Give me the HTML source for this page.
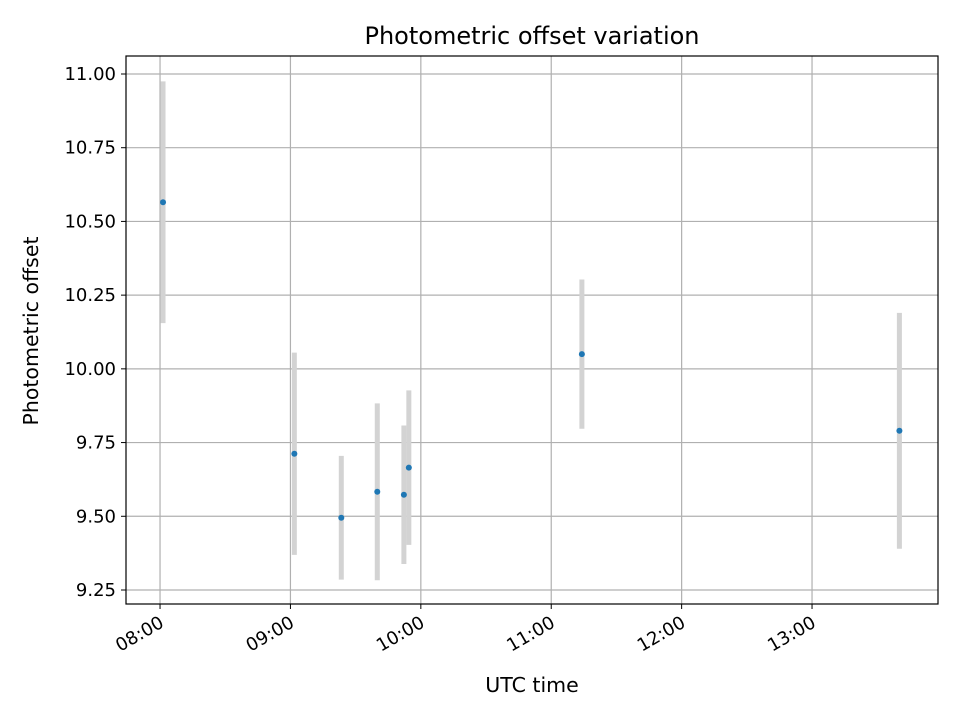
<!DOCTYPE html>
<html><head><meta charset="utf-8"><style>
body{margin:0;background:#fff;font-family:"Liberation Sans","DejaVu Sans",sans-serif;}
svg text{font-family:"DejaVu Sans","Liberation Sans",sans-serif;}
</style></head><body>
<svg id="chart" width="960" height="720" xmlns="http://www.w3.org/2000/svg">
<rect width="960" height="720" fill="#fff"/>
<g id="grid"></g><g id="bars"></g><g id="pts"></g>
<rect x="126" y="56" width="812" height="548" fill="none" stroke="#000" stroke-width="1.2"/>
<g id="axes"></g>
<text x="532" y="44" text-anchor="middle" font-size="24">Photometric offset variation</text>
<text x="532" y="692" text-anchor="middle" font-size="20.5">UTC time</text>
<text x="38" y="331" text-anchor="middle" font-size="20.5" transform="rotate(-90 38 331)">Photometric offset</text>
</svg>
<script>
const times = [8.023, 9.03, 9.39, 9.666, 9.87, 9.908, 11.235, 13.67];
const offsets = [10.565, 9.712, 9.495, 9.583, 9.573, 9.665, 10.05, 9.79];
const errors = [0.41, 0.343, 0.21, 0.30, 0.235, 0.262, 0.253, 0.40];
const xTicks = [8, 9, 10, 11, 12, 13];
const xTickLabels = ["08:00", "09:00", "10:00", "11:00", "12:00", "13:00"];
const yTicks = [9.25, 9.5, 9.75, 10.0, 10.25, 10.5, 10.75, 11.0];

const L=126,R=938,T=56,B=604;
const xMin=7.739,xMax=13.966,yMin=9.2025,yMax=11.061;
const sx=v=>L+(v-xMin)/(xMax-xMin)*(R-L);
const sy=v=>B-(v-yMin)/(yMax-yMin)*(B-T);
const NS="http://www.w3.org/2000/svg";
function mk(tag,attrs,parent,text){const e=document.createElementNS(NS,tag);for(const k in attrs)e.setAttribute(k,attrs[k]);if(text!==undefined)e.textContent=text;document.getElementById(parent).appendChild(e);return e;}
xTicks.forEach((t,i)=>{
  const x=sx(t);
  const g=mk('line',{x1:x,x2:x,y1:T,y2:B,stroke:'#b0b0b0','stroke-width':1.2},'grid');
  
  
  const tk=mk('line',{x1:x,x2:x,y1:B,y2:B+5,stroke:'#000','stroke-width':1},'axes');
  
  
  const lb=mk('text',{x:x+5,y:B+22,'text-anchor':'end','font-size':18,transform:`rotate(-30 ${x+5} ${B+22})`},'axes',xTickLabels[i]);
  
  
});
yTicks.forEach(t=>{
  const y=sy(t);
  const g=mk('line',{x1:L,x2:R,y1:y,y2:y,stroke:'#b0b0b0','stroke-width':1.2},'grid');
  
  
  const tk=mk('line',{x1:L-5,x2:L,y1:y,y2:y,stroke:'#000','stroke-width':1},'axes');
  
  
  const lb=mk('text',{x:L-10,y:y+6,'text-anchor':'end','font-size':18},'axes',t.toFixed(2));
  
  
});
times.forEach((t,i)=>{
  const x=sx(t);
  const b=mk('line',{x1:x,x2:x,y1:sy(offsets[i]+errors[i]),y2:sy(offsets[i]-errors[i]),stroke:'#d3d3d3','stroke-width':5},'bars');
  
  
  const c=mk('circle',{cx:x,cy:sy(offsets[i]),r:3,fill:'#1f77b4'},'pts');
  
  
});
</script>
</body></html>
